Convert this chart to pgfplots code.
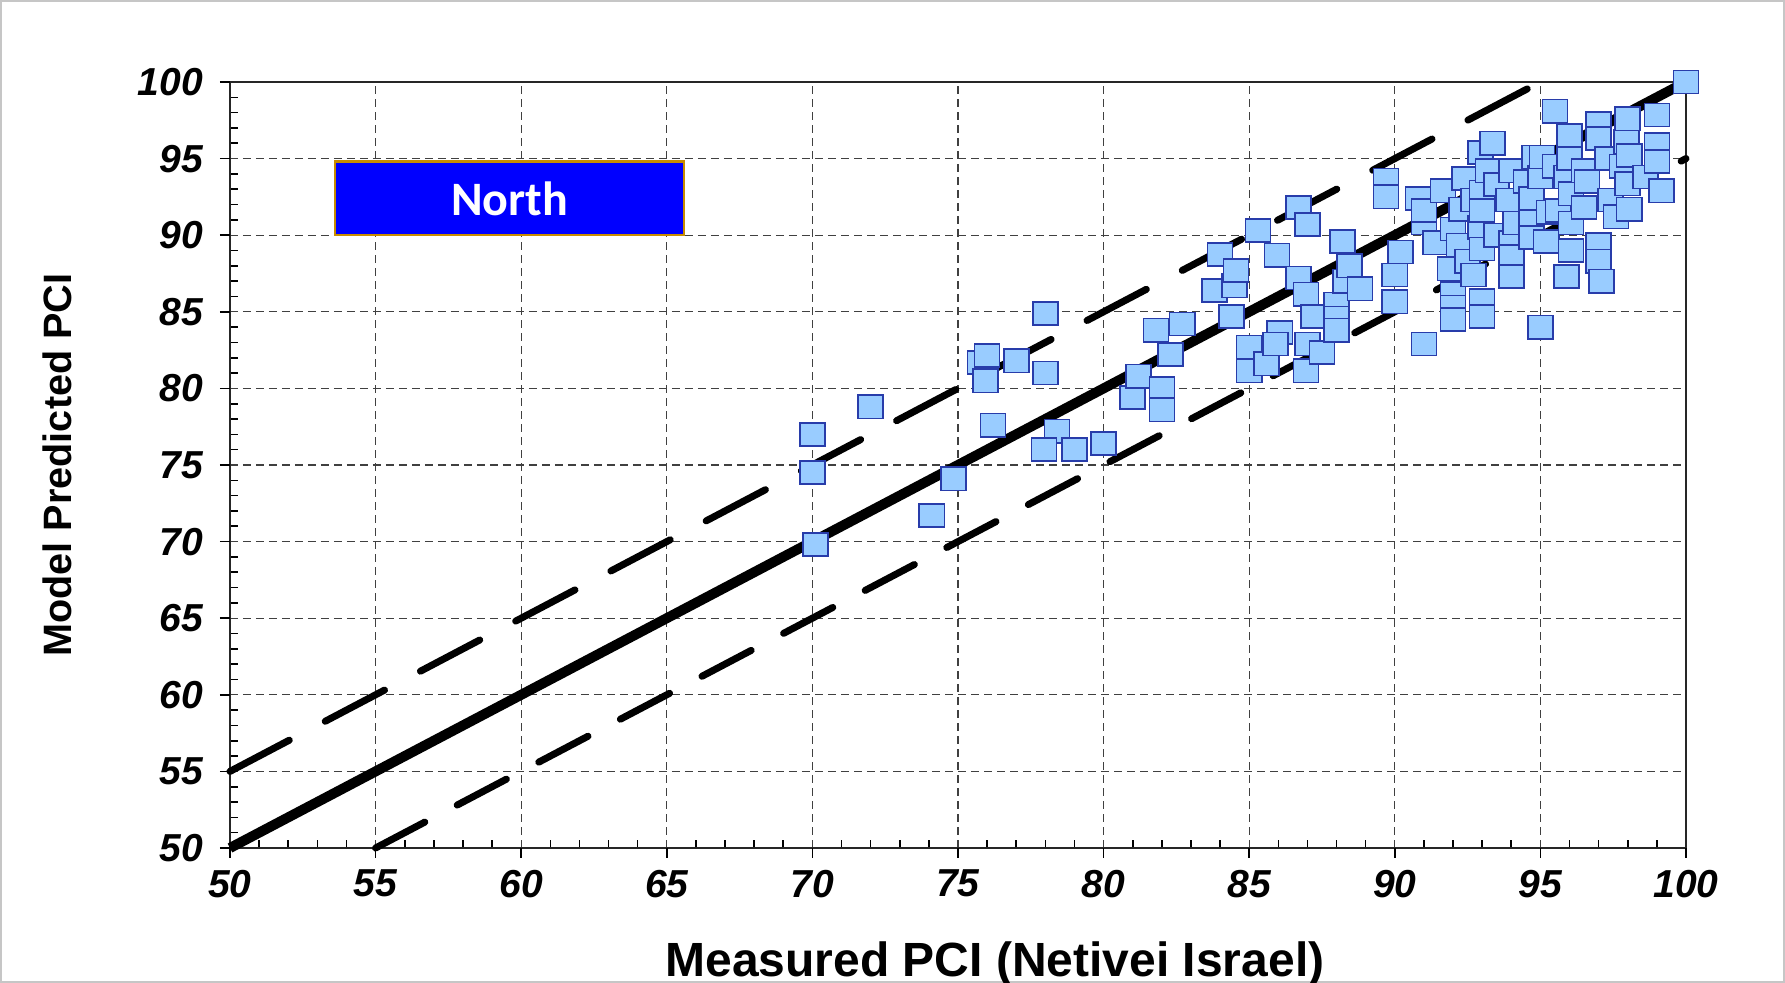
\documentclass[border=0pt]{standalone}
\usepackage{pgfplots}
\pgfplotsset{compat=1.18}
\usepackage{fontspec}
\setmainfont{Liberation Sans}
\newfontfamily\carlito{Carlito}
\definecolor{mfill}{RGB}{153,204,255}
\definecolor{medge}{RGB}{40,60,170}
\definecolor{northblue}{RGB}{0,0,255}
\definecolor{northedge}{RGB}{200,140,0}

\pgfplotstableread{
x y
70.0 77.0
70.0 74.5
70.1 69.8
72.0 78.8
74.1 71.7
74.85 74.1
75.75 81.7
76.0 82.15
75.95 80.5
76.2 77.6
77.0 81.8
78.0 84.9
78.0 81.0
78.4 77.2
77.95 76.0
79.0 76.0
80.0 76.4
81.0 79.4
81.2 80.8
81.8 83.8
82.0 80.0
82.0 78.6
82.3 82.2
82.7 84.2
83.8 86.4
84.0 88.75
84.4 84.7
84.5 86.7
84.55 87.7
85.3 90.3
85.95 88.7
85.0 82.7
85.0 81.15
85.6 81.6
86.05 83.65
85.9 82.9
86.7 91.8
87.0 90.7
86.7 87.2
86.95 86.15
87.0 82.9
86.95 81.15
87.2 84.7
87.5 82.35
88.0 85.5
88.0 84.6
88.0 83.8
88.3 87.0
88.45 88.0
88.2 89.6
88.8 86.5
89.7 93.6
89.7 92.5
90.0 87.4
90.0 85.65
90.2 88.9
90.8 92.4
91.0 90.8
91.0 91.6
91.0 82.9
91.4 89.5
91.65 92.9
91.9 87.8
92.0 90.4
92.0 86.2
92.0 85.3
92.0 84.5
92.2 89.35
92.3 91.7
92.4 93.7
92.5 88.3
92.7 87.4
92.7 92.3
92.95 95.4
92.95 90.5
93.0 92.8
93.0 91.6
93.0 89.1
93.0 85.75
93.0 84.7
93.2 94.2
93.35 96.0
93.5 93.3
93.5 90.0
93.9 92.3
94.0 94.2
94.0 89.5
94.0 88.6
94.0 87.3
94.15 90.8
94.5 93.5
94.7 92.4
94.7 90.9
94.7 89.85
94.8 95.1
95.0 93.8
95.05 95.1
95.0 84.0
95.2 89.6
95.3 91.5
95.5 98.1
95.5 94.5
95.6 91.6
95.9 93.8
95.9 87.3
96.0 96.5
96.0 95.0
96.05 92.7
96.05 90.8
96.05 89.0
96.5 94.2
96.5 91.8
96.6 93.5
97.0 97.3
97.0 96.3
97.0 89.4
97.0 88.3
97.1 87.0
97.3 95.0
97.4 92.3
97.6 91.2
97.8 94.5
97.95 96.1
98.0 97.6
98.0 93.35
98.05 95.2
98.05 91.7
98.6 93.8
99.0 97.85
99.0 95.9
99.0 94.8
99.15 92.9
100.0 100.0
}\pcidata

\begin{document}
\begin{tikzpicture}
\useasboundingbox (-115pt,-67.5pt) rectangle (777.5pt,424pt);
\draw[gray!45, line width=1pt] (-114.5pt,-67pt) rectangle (777pt,423.5pt);
\begin{axis}[
  at={(0,0)}, anchor=south west,
  scale only axis, width=728pt, height=383pt,
  xmin=50, xmax=100, ymin=50, ymax=100,
  xtick={50,55,...,100}, ytick={50,55,...,100},
  minor x tick num=4, minor y tick num=4,
  tick pos=left,
  tick align=inside, major tick length=0pt, minor tick length=4pt,
  tick style={black, line width=0.8pt},
  extra x ticks={50,55,...,100}, extra y ticks={50,55,...,100},
  extra x tick labels={}, extra y tick labels={},
  extra tick style={grid=none, tick align=outside, major tick length=5pt},
  grid=major,
  major grid style={black!75, line width=0.6pt, dash pattern=on 4pt off 2.5pt},
  axis line style={black!85, line width=1.3pt},
  /pgf/number format/assume math mode=true,
  tick label style={font=\fontsize{19.5}{19.5}\selectfont\bfseries\itshape},
  yticklabel style={xshift=-10pt},
  xticklabel style={yshift=-7.5pt},
  xlabel={Measured PCI (Netivei Israel)},
  ylabel={Model Predicted PCI},
  xlabel style={font=\fontsize{24}{24}\selectfont\bfseries, at={(axis description cs:0.5254,-0.1514)}, anchor=center},
  ylabel style={font=\fontsize{19.8}{19.8}\selectfont\bfseries, at={(axis description cs:-0.1185,0.5)}, anchor=center},
  clip=false,
]
\addplot[black, line width=5pt] coordinates {(50,50) (100,100)};
\addplot[black, line width=3.5pt, line cap=round, dash pattern=on 33.5pt off 20.3pt] coordinates {(50,55) (95,100)};
\addplot[black, line width=3.5pt, line cap=round, dash pattern=on 27.8pt off 18.3pt] coordinates {(55,50) (100,95)};
\addplot[only marks, mark=square*, mark size=5.8pt,
  mark options={fill=mfill, draw=medge, line width=0.8pt, xscale=1.08}] table[x=x,y=y] {\pcidata};
\draw[fill=northblue, draw=northedge, line width=1.2pt] (axis cs:53.6,90) rectangle (axis cs:65.6,94.8);
\node[text=white, font=\carlito\bfseries\fontsize{24}{24}\selectfont] at (axis cs:59.6,92.35) {North};
\end{axis}
\end{tikzpicture}
\end{document}
